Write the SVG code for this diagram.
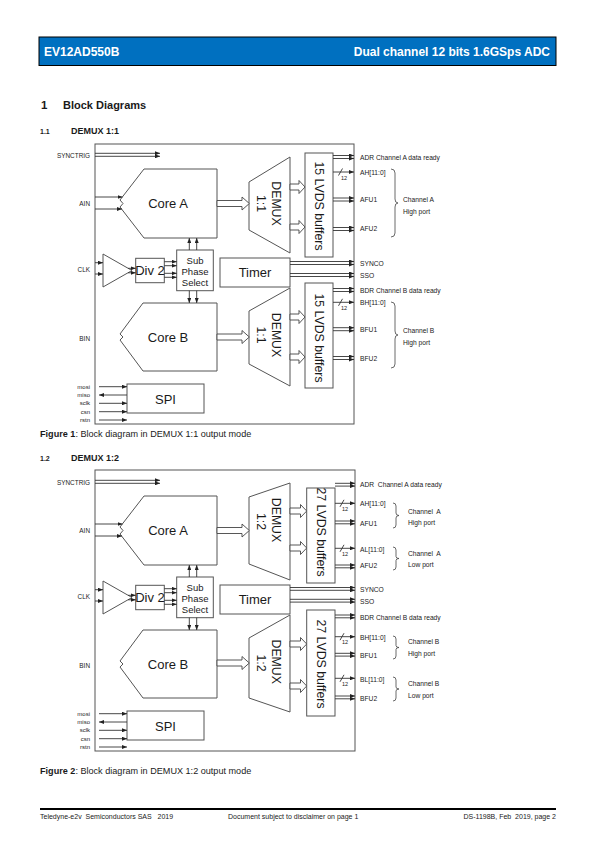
<svg xmlns="http://www.w3.org/2000/svg" width="595" height="842" viewBox="0 0 595 842">
<defs>
<marker id="ah" markerWidth="5" markerHeight="4" refX="5" refY="2" orient="auto" markerUnits="userSpaceOnUse"><path d="M0,0 L5,2 L0,4 z" fill="#222"/></marker>
<style>
text{font-family:"Liberation Sans",Arial,sans-serif;fill:#1a1a1a;white-space:pre}
.ln{stroke:#333;stroke-width:0.9;fill:none}
.a{marker-end:url(#ah)}
.box{fill:#fff;stroke:#555;stroke-width:1}
.frame{fill:none;stroke:#555;stroke-width:1}
.hol{fill:#fff;stroke:#444;stroke-width:0.9}
.sig{font-size:6.7px}
.lab{font-size:6.4px}
.spi{font-size:6px}
.big{font-size:13px}
.mid{font-size:12.3px}
.sps{font-size:9.5px}
.br{fill:none;stroke:#444;stroke-width:0.8}
.n12{font-size:5.5px}
.cap{font-size:9.1px}
.foot{font-size:7px}
</style>
</defs>
<rect width="595" height="842" fill="#fff"/>
<g id="header">
<rect x="39" y="37" width="517" height="28.5" fill="#0070C0" stroke="#000" stroke-width="1"/>
<text x="44" y="55.5" style="font-size:12px;font-weight:bold;fill:#fff">EV12AD550B</text>
<text x="550" y="55.5" text-anchor="end" style="font-size:12px;font-weight:bold;fill:#fff">Dual channel 12 bits 1.6GSps ADC</text>
</g>
<g id="headings">
<text x="41" y="109" style="font-size:11.5px;font-weight:bold">1</text>
<text x="63" y="109" style="font-size:11px;font-weight:bold">Block Diagrams</text>
<text x="40" y="134" style="font-size:7px;font-weight:bold">1.1</text>
<text x="71" y="134" style="font-size:9px;font-weight:bold">DEMUX 1:1</text>
<text class="cap" x="40" y="436.5"><tspan style="font-weight:bold">Figure 1</tspan>: Block diagram in DEMUX 1:1 output mode</text>
<text x="40" y="461" style="font-size:7px;font-weight:bold">1.2</text>
<text x="71" y="461" style="font-size:9px;font-weight:bold">DEMUX 1:2</text>
<text class="cap" x="40" y="773.5"><tspan style="font-weight:bold">Figure 2</tspan>: Block diagram in DEMUX 1:2 output mode</text>
</g>

<!-- ================= DIAGRAM 1 ================= -->
<g id="d1">
<rect id="d1-frame" class="frame" x="95" y="144" width="259" height="280"/>
<g id="d1-inlabels">
<text class="lab" x="90" y="157.5" text-anchor="end">SYNCTRIG</text>
<text class="lab" x="90" y="205.5" text-anchor="end">AIN</text>
<text class="lab" x="90" y="271.5" text-anchor="end">CLK</text>
<text class="lab" x="90" y="340.5" text-anchor="end">BIN</text>
<text class="spi" x="90" y="388.8" text-anchor="end">mosi</text>
<text class="spi" x="90" y="397.1" text-anchor="end">miso</text>
<text class="spi" x="90" y="405.4" text-anchor="end">sclk</text>
<text class="spi" x="90" y="413.7" text-anchor="end">csn</text>
<text class="spi" x="90" y="422" text-anchor="end">rstn</text>
</g>
<g id="d1-coreA">
<polygon class="box" points="144,169 217,169 217,238 144,238 120,207 123,203.5 120,200"/>
<text class="big" x="168" y="208" text-anchor="middle">Core A</text>
</g>
<g id="d1-demuxA">
<polygon class="box" points="249,182 290,157 290,253 249,230"/>
<text class="mid" transform="translate(272,203.5) rotate(90)" text-anchor="middle">DEMUX</text>
<text class="mid" transform="translate(257,203.5) rotate(90)" text-anchor="middle">1:1</text>
</g>
<g id="d1-lvdsA">
<rect class="box" x="305" y="153" width="28" height="104"/>
<text class="mid" transform="translate(314.8,206) rotate(90)" text-anchor="middle">15 LVDS buffers</text>
</g>
<g id="d1-timer">
<rect class="box" x="220" y="258" width="70" height="29"/>
<text class="big" x="255" y="277" text-anchor="middle">Timer</text>
</g>
<g id="d1-clkbuf">
<polygon class="box" points="103,254 103,287 132,270.5"/>
</g>
<g id="d1-div2">
<rect class="box" x="135.7" y="258.3" width="28.6" height="24.4"/>
<text class="big" x="150" y="275.3" text-anchor="middle">Div 2</text>
</g>
<g id="d1-subphase">
<rect class="box" x="176.7" y="250" width="36.6" height="40.7"/>
<text class="sps" x="195" y="263.5" text-anchor="middle">Sub</text>
<text class="sps" x="195" y="275" text-anchor="middle">Phase</text>
<text class="sps" x="195" y="286" text-anchor="middle">Select</text>
</g>
<g id="d1-coreB">
<polygon class="box" points="143,303 217,303 217,371 143,371 120,340 123,337 120,334"/>
<text class="big" x="168" y="341.5" text-anchor="middle">Core B</text>
</g>
<g id="d1-demuxB">
<polygon class="box" points="249,311 290,288 290,386 249,364"/>
<text class="mid" transform="translate(272,335) rotate(90)" text-anchor="middle">DEMUX</text>
<text class="mid" transform="translate(257,335) rotate(90)" text-anchor="middle">1:1</text>
</g>
<g id="d1-lvdsB">
<rect class="box" x="305" y="283" width="28" height="105"/>
<text class="mid" transform="translate(314.8,338) rotate(90)" text-anchor="middle">15 LVDS buffers</text>
</g>
<g id="d1-spi">
<rect class="box" x="127" y="384" width="77" height="29"/>
<text class="big" x="165.5" y="403.5" text-anchor="middle">SPI</text>
</g>
<g id="d1-outlabels">
<text class="sig" x="360" y="159.5">ADR Channel A data ready</text>
<text class="sig" x="360" y="175">AH[11:0]</text>
<text class="sig" x="360" y="201.5">AFU1</text>
<text class="sig" x="360" y="231">AFU2</text>
<text class="sig" x="403" y="202">Channel A</text>
<text class="sig" x="403" y="213.5">High port</text>
<text class="sig" x="360" y="265.5">SYNCO</text>
<text class="sig" x="360" y="277.5">SSO</text>
<text class="sig" x="360" y="292.5">BDR Channel B data ready</text>
<text class="sig" x="360" y="304.5">BH[11:0]</text>
<text class="sig" x="360" y="331.5">BFU1</text>
<text class="sig" x="360" y="360.5">BFU2</text>
<text class="sig" x="403" y="332.5">Channel B</text>
<text class="sig" x="403" y="345">High port</text>
<path class="br" d="M391,169 q4,0 4,4 v26 q0,4 3,4 q-3,0 -3,4 v26 q0,4 -4,4"/>
<path class="br" d="M391,302 q4,0 4,4 v25 q0,4 3,4 q-3,0 -3,4 v25 q0,4 -4,4"/>
<text class="n12" x="341" y="179.5">12</text>
<text class="n12" x="341" y="309.5">12</text>
</g>
<g id="d1-connectors">
<path class="ln a" d="M95,153.3 H160"/>
<path class="ln a" d="M95,156.3 H160"/>
<path class="ln a" d="M95,197 H122.5"/>
<path class="ln a" d="M95,209 H122"/>
<path class="ln a" d="M95,262.7 H103"/>
<path class="ln a" d="M95,274 H103"/>
<path class="ln a" d="M128,268.3 H135.7"/>
<path class="ln a" d="M128,272.8 H135.7"/>
<path class="ln a" d="M164.3,261.7 H176.7"/>
<path class="ln a" d="M164.3,265.7 H176.7"/>
<path class="ln a" d="M164.3,273.3 H176.7"/>
<path class="ln a" d="M164.3,277.3 H176.7"/>
<path class="ln a" d="M189.3,250 V238"/>
<path class="ln a" d="M196.7,250 V238"/>
<path class="ln a" d="M189.3,290.7 V303"/>
<path class="ln a" d="M196.7,290.7 V303"/>
<polygon class="hol" points="217,200.5 242,200.5 242,197 249.3,203.5 242,210 242,206.5 217,206.5"/>
<polygon class="hol" points="290,184 299,184 299,180.5 305,187 299,193.5 299,190 290,190"/>
<polygon class="hol" points="290,224 299,224 299,220.5 305,227 299,233.5 299,230 290,230"/>
<polygon class="hol" points="217,334 242,334 242,330.5 249.3,337 242,343.5 242,340 217,340"/>
<polygon class="hol" points="290,314 299,314 299,310.5 305,317 299,323.5 299,320 290,320"/>
<polygon class="hol" points="290,354 299,354 299,350.5 305,357 299,363.5 299,360 290,360"/>
<path class="ln a" d="M333,155.5 H354"/>
<path class="ln a" d="M333,158.5 H354"/>
<path class="ln a" d="M333,172 H354"/>
<path class="ln" d="M338.5,175.5 L342.5,168.5"/>
<path class="ln a" d="M333,198 H354"/>
<path class="ln a" d="M333,201 H354"/>
<path class="ln a" d="M333,227.5 H354"/>
<path class="ln a" d="M333,230.5 H354"/>
<path class="ln a" d="M290,261.5 H354"/>
<path class="ln a" d="M290,264.5 H354"/>
<path class="ln a" d="M290,273.5 H354"/>
<path class="ln a" d="M290,276.5 H354"/>
<path class="ln a" d="M333,288.5 H354"/>
<path class="ln a" d="M333,291.5 H354"/>
<path class="ln a" d="M333,302.3 H354"/>
<path class="ln" d="M338.5,305.8 L342.5,298.8"/>
<path class="ln a" d="M333,327.7 H354"/>
<path class="ln a" d="M333,330.7 H354"/>
<path class="ln a" d="M333,356.5 H354"/>
<path class="ln a" d="M333,359.5 H354"/>
<path class="ln a" d="M99,386.7 H127"/>
<path class="ln a" d="M127,395 H99"/>
<path class="ln a" d="M99,403.3 H127"/>
<path class="ln a" d="M99,411.7 H127"/>
<path class="ln a" d="M99,420 H127"/>
</g>
</g>

<!-- ================= DIAGRAM 2 ================= -->
<g id="d2" transform="translate(0,327)">
<rect id="d2-frame" class="frame" x="95" y="143" width="260" height="281"/>
<g id="d2-inlabels">
<text class="lab" x="90" y="157.5" text-anchor="end">SYNCTRIG</text>
<text class="lab" x="90" y="205.5" text-anchor="end">AIN</text>
<text class="lab" x="90" y="271.5" text-anchor="end">CLK</text>
<text class="lab" x="90" y="340.5" text-anchor="end">BIN</text>
<text class="spi" x="90" y="388.8" text-anchor="end">mosi</text>
<text class="spi" x="90" y="397.1" text-anchor="end">miso</text>
<text class="spi" x="90" y="405.4" text-anchor="end">sclk</text>
<text class="spi" x="90" y="413.7" text-anchor="end">csn</text>
<text class="spi" x="90" y="422" text-anchor="end">rstn</text>
</g>
<g id="d2-coreA">
<polygon class="box" points="144,169 217,169 217,238 144,238 120,207 123,203.5 120,200"/>
<text class="big" x="168" y="208" text-anchor="middle">Core A</text>
</g>
<g id="d2-demuxA">
<polygon class="box" points="249,170 290,156 290,253 249,237"/>
<text class="mid" transform="translate(272,193) rotate(90)" text-anchor="middle">DEMUX</text>
<text class="mid" transform="translate(257,194.5) rotate(90)" text-anchor="middle">1:2</text>
</g>
<g id="d2-lvdsA">
<rect class="box" x="306.7" y="161" width="28.3" height="95"/>
<text class="mid" transform="translate(316.5,205) rotate(90)" text-anchor="middle">27 LVDS buffers</text>
</g>
<g id="d2-timer">
<rect class="box" x="220" y="258" width="70" height="29"/>
<text class="big" x="255" y="277" text-anchor="middle">Timer</text>
</g>
<g id="d2-clkbuf">
<polygon class="box" points="103,254 103,287 132,270.5"/>
</g>
<g id="d2-div2">
<rect class="box" x="135.7" y="258.3" width="28.6" height="24.4"/>
<text class="big" x="150" y="275.3" text-anchor="middle">Div 2</text>
</g>
<g id="d2-subphase">
<rect class="box" x="176.7" y="250" width="36.6" height="40.7"/>
<text class="sps" x="195" y="263.5" text-anchor="middle">Sub</text>
<text class="sps" x="195" y="275" text-anchor="middle">Phase</text>
<text class="sps" x="195" y="286" text-anchor="middle">Select</text>
</g>
<g id="d2-coreB">
<polygon class="box" points="143,303 217,303 217,371 143,371 120,340 123,337 120,334"/>
<text class="big" x="168" y="341.5" text-anchor="middle">Core B</text>
</g>
<g id="d2-demuxB">
<polygon class="box" points="249,311 290,288 290,385 249,371"/>
<text class="mid" transform="translate(272,334.7) rotate(90)" text-anchor="middle">DEMUX</text>
<text class="mid" transform="translate(257,336) rotate(90)" text-anchor="middle">1:2</text>
</g>
<g id="d2-lvdsB">
<rect class="box" x="306.7" y="283" width="28.3" height="106"/>
<text class="mid" transform="translate(316.5,337) rotate(90)" text-anchor="middle">27 LVDS buffers</text>
</g>
<g id="d2-spi">
<rect class="box" x="127" y="384" width="77" height="29"/>
<text class="big" x="165.5" y="403.5" text-anchor="middle">SPI</text>
</g>
<g id="d2-outlabels">
<text class="sig" x="360" y="160">ADR  Channel A data ready</text>
<text class="sig" x="360" y="178.6">AH[11:0]</text>
<text class="sig" x="360" y="198.6">AFU1</text>
<text class="sig" x="360" y="224.6">AL[11:0]</text>
<text class="sig" x="360" y="241.3">AFU2</text>
<text class="sig" x="408" y="187">Channel  A</text>
<text class="sig" x="408" y="198">High port</text>
<text class="sig" x="408" y="229.3">Channel  A</text>
<text class="sig" x="408" y="240.3">Low port</text>
<text class="sig" x="360" y="265.3">SYNCO</text>
<text class="sig" x="360" y="277">SSO</text>
<text class="sig" x="360" y="292.6">BDR Channel B data ready</text>
<text class="sig" x="360" y="312.6">BH[11:0]</text>
<text class="sig" x="360" y="331.3">BFU1</text>
<text class="sig" x="360" y="355.3">BL[11:0]</text>
<text class="sig" x="360" y="374">BFU2</text>
<text class="sig" x="408" y="317">Channel B</text>
<text class="sig" x="408" y="329.3">High port</text>
<text class="sig" x="408" y="358.6">Channel B</text>
<text class="sig" x="408" y="371.3">Low port</text>
<path class="br" d="M393,176 q3,0 3,3 v7 q0,2.5 3,2.5 q-3,0 -3,2.5 v7 q0,3 -3,3"/>
<path class="br" d="M393,220 q3,0 3,3 v6.5 q0,2 3,2 q-3,0 -3,2 v6.5 q0,3 -3,3"/>
<path class="br" d="M393,309 q3,0 3,3 v6.5 q0,2 3,2 q-3,0 -3,2 v6.5 q0,3 -3,3"/>
<path class="br" d="M393,350 q3,0 3,3 v7 q0,2 3,2 q-3,0 -3,2 v7 q0,3 -3,3"/>
<text class="n12" x="342" y="183.5">12</text>
<text class="n12" x="342" y="228.5">12</text>
<text class="n12" x="342" y="317">12</text>
<text class="n12" x="342" y="358.5">12</text>
</g>
<g id="d2-connectors">
<path class="ln a" d="M95,153.3 H160"/>
<path class="ln a" d="M95,156.3 H160"/>
<path class="ln a" d="M95,197 H122.5"/>
<path class="ln a" d="M95,209 H122"/>
<path class="ln a" d="M95,262.7 H103"/>
<path class="ln a" d="M95,274 H103"/>
<path class="ln a" d="M128,268.3 H135.7"/>
<path class="ln a" d="M128,272.8 H135.7"/>
<path class="ln a" d="M164.3,261.7 H176.7"/>
<path class="ln a" d="M164.3,265.7 H176.7"/>
<path class="ln a" d="M164.3,273.3 H176.7"/>
<path class="ln a" d="M164.3,277.3 H176.7"/>
<path class="ln a" d="M189.3,250 V238"/>
<path class="ln a" d="M196.7,250 V238"/>
<path class="ln a" d="M189.3,290.7 V303"/>
<path class="ln a" d="M196.7,290.7 V303"/>
<polygon class="hol" points="217,200.5 242,200.5 242,197 249.3,203.5 242,210 242,206.5 217,206.5"/>
<polygon class="hol" points="290,181 300.5,181 300.5,177.5 306.7,184 300.5,190.5 300.5,187 290,187"/>
<polygon class="hol" points="290,218 300.5,218 300.5,214.5 306.7,221 300.5,227.5 300.5,224 290,224"/>
<polygon class="hol" points="217,333 242,333 242,329.5 249.3,336 242,342.5 242,339 217,339"/>
<polygon class="hol" points="290,314 300.5,314 300.5,310.5 306.7,317 300.5,323.5 300.5,320 290,320"/>
<polygon class="hol" points="290,356 300.5,356 300.5,352.5 306.7,359 300.5,365.5 300.5,362 290,362"/>
<path class="ln a" d="M335,156.3 H355"/>
<path class="ln a" d="M335,159.1 H355"/>
<path class="ln a" d="M335,176.3 H355"/>
<path class="ln" d="M340,179.8 L344,172.8"/>
<path class="ln a" d="M335,194 H355"/>
<path class="ln a" d="M335,196.8 H355"/>
<path class="ln a" d="M335,221.3 H355"/>
<path class="ln" d="M340,224.8 L344,217.8"/>
<path class="ln a" d="M335,238 H355"/>
<path class="ln a" d="M335,240.8 H355"/>
<path class="ln a" d="M290,260.5 H355"/>
<path class="ln a" d="M290,263.3 H355"/>
<path class="ln a" d="M290,272.3 H355"/>
<path class="ln a" d="M290,275.1 H355"/>
<path class="ln a" d="M335,288 H355"/>
<path class="ln a" d="M335,290.8 H355"/>
<path class="ln a" d="M335,309.7 H355"/>
<path class="ln" d="M340,313.2 L344,306.2"/>
<path class="ln a" d="M335,326.3 H355"/>
<path class="ln a" d="M335,329.1 H355"/>
<path class="ln a" d="M335,351.3 H355"/>
<path class="ln" d="M340,354.8 L344,347.8"/>
<path class="ln a" d="M335,369 H355"/>
<path class="ln a" d="M335,371.8 H355"/>
<path class="ln a" d="M99,386.7 H127"/>
<path class="ln a" d="M127,395 H99"/>
<path class="ln a" d="M99,403.3 H127"/>
<path class="ln a" d="M99,411.7 H127"/>
<path class="ln a" d="M99,420 H127"/>
</g>
</g>

<g id="footer">
<line x1="40" y1="809" x2="556" y2="809" stroke="#000" stroke-width="2"/>
<text class="foot" x="40" y="819">Teledyne-e2v  Semiconductors SAS   2019</text>
<text class="foot" x="228" y="819">Document subject to disclaimer on page 1</text>
<text class="foot" x="556" y="819" text-anchor="end">DS-1198B, Feb  2019, page 2</text>
</g>
</svg>
